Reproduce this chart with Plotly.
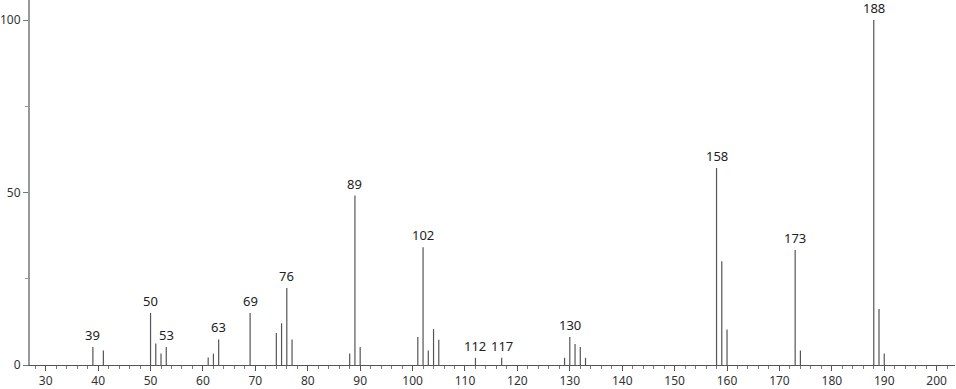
import plotly.graph_objects as go

mz = [39, 41, 50, 51, 52, 53, 61, 62, 63, 69, 74, 75, 76, 77,
      88, 89, 90, 101, 102, 103, 104, 105, 112, 117,
      129, 130, 131, 132, 133, 158, 159, 160, 173, 174, 188, 189, 190]
intensity = [5.2, 4.2, 15.1, 6.2, 3.3, 5.2, 2.2, 3.3, 7.4, 15.1, 9.3, 12.1, 22.3, 7.4,
             3.3, 49.1, 5.2, 8.1, 34.1, 4.2, 10.4, 7.3, 2.1, 2.1,
             2.1, 8.1, 6.1, 5.2, 2.1, 57.1, 30.1, 10.3, 33.3, 4.2, 100.0, 16.2, 3.3]
labeled = [39, 50, 53, 63, 69, 76, 89, 102, 112, 117, 130, 158, 173, 188]

xs, ys = [], []
for m, v in zip(mz, intensity):
    xs += [m, m, None]
    ys += [0, v, None]

fig = go.Figure()
fig.add_trace(go.Scatter(x=xs, y=ys, mode="lines",
                         line=dict(color="#555555", width=1.2),
                         hoverinfo="skip", showlegend=False))

lookup = dict(zip(mz, intensity))
for m in labeled:
    fig.add_annotation(x=m, y=lookup[m], text=str(m), showarrow=False,
                       yanchor="bottom", yshift=1,
                       font=dict(family="Noto Sans, DejaVu Sans", size=13, color="#222222"))

fig.update_layout(
    width=956, height=389,
    margin=dict(l=29, r=1, t=0, b=22),
    plot_bgcolor="white", paper_bgcolor="white",
    font=dict(family="Noto Sans, DejaVu Sans", size=12, color="#333333"),
    xaxis=dict(range=[27, 203.5], tickvals=list(range(30, 201, 10)),
               showgrid=False, zeroline=False,
               showline=True, linecolor="#555555", linewidth=1,
               ticks="outside", ticklen=5, tickcolor="#555555",
               minor=dict(dtick=2, tick0=0, ticks="outside", ticklen=3, tickcolor="#777777"),
               tickfont=dict(size=12)),
    yaxis=dict(range=[0, 105.8], tickvals=[0, 50, 100],
               showgrid=False, zeroline=False,
               showline=True, linecolor="#999999", linewidth=2,
               ticks="outside", ticklen=5, tickcolor="#777777",
               minor=dict(tickvals=[25, 75], ticks="outside", ticklen=3, tickcolor="#999999"),
               tickfont=dict(size=12)),
)

fig.write_html("out.html")
